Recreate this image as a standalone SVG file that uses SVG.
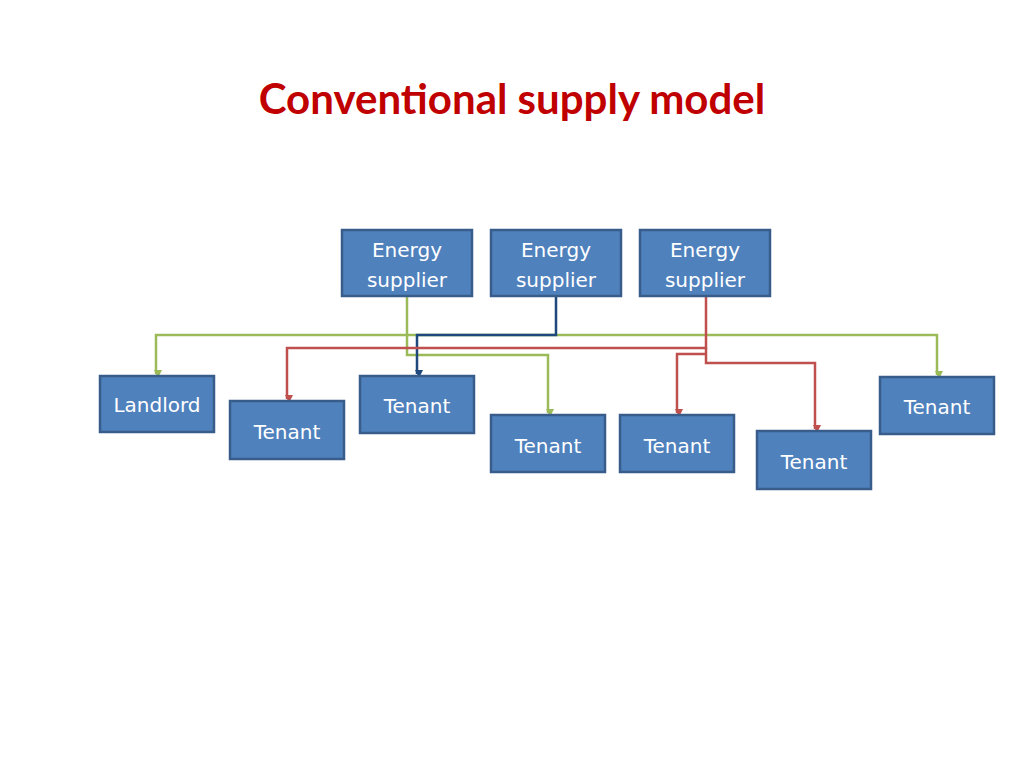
<svg xmlns="http://www.w3.org/2000/svg" width="1024" height="768" viewBox="0 0 1024 768">
<style>
.n rect{fill:#4f81bd;stroke:#385d8a;stroke-width:2.5}
.n text{fill:#fff;font-family:"DejaVu Sans",sans-serif;font-size:20px;text-anchor:middle}
.c path{fill:none;stroke-width:2.5}
.g{stroke:#9bbb59}.r{stroke:#c0504d}.b{stroke:#1f497d}
</style>
<defs>
<marker id="ag" markerWidth="8" markerHeight="8" refX="4" refY="6" orient="auto" markerUnits="userSpaceOnUse"><path d="M0,0 L8,0 L4,8z" fill="#9bbb59" transform="rotate(-90 4 4)"/></marker>
<marker id="ar" markerWidth="8" markerHeight="8" refX="4" refY="6" orient="auto" markerUnits="userSpaceOnUse"><path d="M0,0 L8,0 L4,8z" fill="#c0504d" transform="rotate(-90 4 4)"/></marker>
<marker id="ab" markerWidth="8" markerHeight="8" refX="4" refY="6" orient="auto" markerUnits="userSpaceOnUse"><path d="M0,0 L8,0 L4,8z" fill="#1f497d" transform="rotate(-90 4 4)"/></marker>
</defs>
<text x="512" y="114" text-anchor="middle" font-family="Lato,'DejaVu Sans',sans-serif" font-weight="bold" font-size="42" fill="#c00000">Conventional supply model</text>
<g class="c">
<path class="g" d="M407,296 V335 H156 V374" marker-end="url(#ag)"/>
<path class="g" d="M407,335 H937 V375" marker-end="url(#ag)"/>
<path class="g" d="M407,335 V355 H548 V413" marker-end="url(#ag)"/>
<path class="b" d="M556,296 V335 H417 V374" marker-end="url(#ab)"/>
<path class="r" d="M706,296 V348 H287 V399" marker-end="url(#ar)"/>
<path class="r" d="M706,354 H677 V413" marker-end="url(#ar)"/>
<path class="r" d="M706,348 V363 H815 V429" marker-end="url(#ar)"/>
</g>
<g id="s1" class="n"><rect x="342" y="230" width="130" height="66"/><text x="407" y="257">Energy</text><text x="407" y="287">supplier</text></g>
<g id="s2" class="n"><rect x="491" y="230" width="130" height="66"/><text x="556" y="257">Energy</text><text x="556" y="287">supplier</text></g>
<g id="s3" class="n"><rect x="640" y="230" width="130" height="66"/><text x="705" y="257">Energy</text><text x="705" y="287">supplier</text></g>
<g id="landlord" class="n"><rect x="100" y="376" width="114" height="56"/><text x="157" y="412">Landlord</text></g>
<g id="t1" class="n"><rect x="230" y="401" width="114" height="58"/><text x="287" y="439">Tenant</text></g>
<g id="t2" class="n"><rect x="360" y="376" width="114" height="57"/><text x="417" y="413">Tenant</text></g>
<g id="t3" class="n"><rect x="491" y="415" width="114" height="57"/><text x="548" y="453">Tenant</text></g>
<g id="t4" class="n"><rect x="620" y="415" width="114" height="57"/><text x="677" y="453">Tenant</text></g>
<g id="t5" class="n"><rect x="757" y="431" width="114" height="58"/><text x="814" y="469">Tenant</text></g>
<g id="t6" class="n"><rect x="880" y="377" width="114" height="57"/><text x="937" y="414">Tenant</text></g>
</svg>
